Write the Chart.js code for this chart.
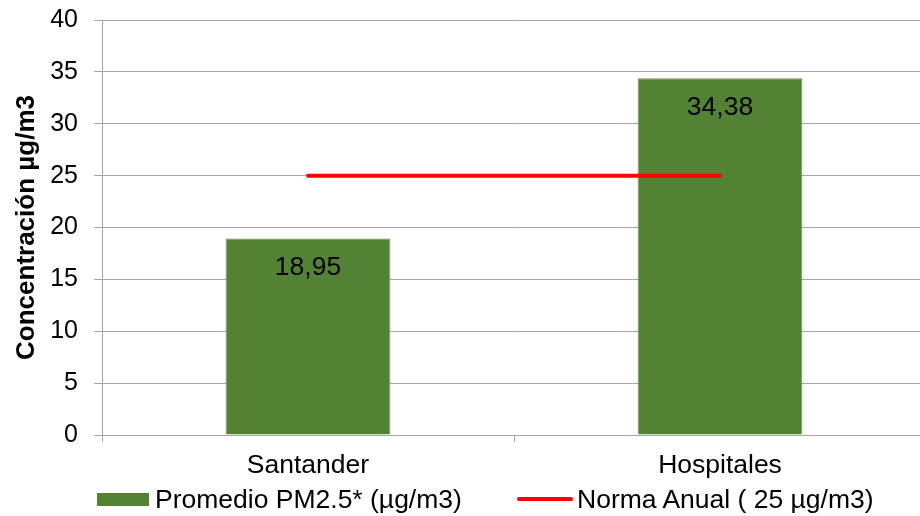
<!DOCTYPE html>
<html lang="es">
<head>
  <meta charset="UTF-8">
  <title>Concentración PM2.5</title>
  <script src="https://cdn.jsdelivr.net/npm/chart.js"></script>
  <style>
    html, body { margin: 0; padding: 0; background: #fff; overflow: hidden; }
    .wrap { position: relative; width: 926px; height: 516px; font-family: "Liberation Sans", Arial, sans-serif; }
    .legend { position: absolute; left: 0; top: 484px; height: 30px; width: 920px; font-size: 26.5px; color: #000; }
    .legend .item { position: absolute; top: 0; display: flex; align-items: center; height: 30px; white-space: nowrap; }
    .legend .box { width: 52px; height: 13px; background: #548235; margin-right: 6px; }
    .legend .line { width: 56px; height: 4px; background: #ff0000; border-radius: 2px; margin-right: 4px; }
  </style>
</head>
<body>
<div class="wrap">
  <canvas id="chart" width="926" height="516"></canvas>
  <div class="legend">
    <div class="item" style="left:97px"><span class="box"></span><span>Promedio PM2.5* (µg/m3)</span></div>
    <div class="item" style="left:517px"><span class="line"></span><span>Norma Anual ( 25 µg/m3)</span></div>
  </div>
</div>

<script>
  const categories = ['Santander', 'Hospitales'];
  const promedioPM25 = [18.95, 34.38];
  const normaAnual = [25, 25];
  const yTicks = [0, 5, 10, 15, 20, 25, 30, 35, 40];

  const FONT = '"Liberation Sans", Arial, sans-serif';

  // value labels inside the top of each bar
  const barLabels = {
    id: 'barLabels',
    afterDatasetsDraw(chart) {
      const ctx = chart.ctx;
      const meta = chart.getDatasetMeta(1);
      ctx.save();
      ctx.font = '26.5px ' + FONT;
      ctx.fillStyle = '#000';
      ctx.textAlign = 'center';
      ctx.textBaseline = 'middle';
      meta.data.forEach((bar, i) => {
        const txt = promedioPM25[i].toFixed(2).replace('.', ',');
        ctx.fillText(txt, bar.x, bar.y + 29);
      });
      ctx.restore();
    }
  };

  new Chart(document.getElementById('chart'), {
    data: {
      labels: categories,
      datasets: [
        {
          type: 'line',
          label: 'Norma Anual ( 25 µg/m3)',
          data: normaAnual,
          borderColor: '#ff0000',
          borderWidth: 4,
          borderCapStyle: 'round',
          pointRadius: 0,
          fill: false,
          order: 0
        },
        {
          type: 'bar',
          label: 'Promedio PM2.5* (µg/m3)',
          data: promedioPM25,
          backgroundColor: '#548235',
          borderColor: '#6a9450',
          borderWidth: 1,
          categoryPercentage: 1,
          barPercentage: 0.4,
          order: 1
        }
      ]
    },
    options: {
      responsive: false,
      animation: false,
      layout: { padding: { top: 20, right: 0, bottom: 0, left: 0 } },
      plugins: {
        legend: { display: false },
        tooltip: { enabled: false }
      },
      scales: {
        x: {
          offset: true,
          grid: {
            offset: true,
            drawOnChartArea: false,
            drawTicks: true,
            tickLength: 7,
            color: '#a6a6a6'
          },
          border: { display: true, color: '#a6a6a6' },
          ticks: { font: { family: FONT, size: 26.5 }, color: '#000', padding: 8 },
          afterFit: s => { s.height = 81; s.paddingLeft = 0; s.paddingRight = 0; }
        },
        y: {
          min: 0,
          max: 40,
          afterBuildTicks: s => { s.ticks = yTicks.map(v => ({ value: v })); },
          grid: { color: '#a6a6a6', tickLength: 8 },
          border: { display: true, color: '#a6a6a6' },
          ticks: { font: { family: FONT, size: 25 }, color: '#000', padding: 16 },
          title: {
            display: true,
            text: 'Concentración µg/m3',
            font: { family: FONT, size: 26, weight: 'bold' },
            color: '#000',
            padding: { top: 11, bottom: 0 }
          },
          afterFit: s => { s.width = 102; s.paddingTop = 0; s.paddingBottom = 0; }
        }
      }
    },
    plugins: [barLabels]
  });
</script>
</body>
</html>
